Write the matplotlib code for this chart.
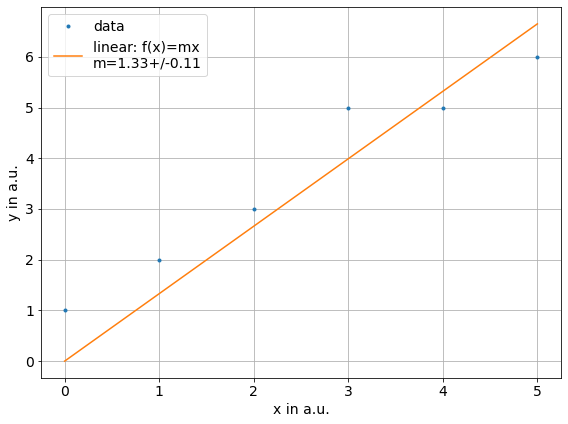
import matplotlib
matplotlib.use("Agg")
import matplotlib.pyplot as plt
import numpy as np

# measured points
x_data = [0, 1, 2, 3, 4, 5]
y_data = [1, 2, 3, 5, 5, 6]

# fit result shown in legend
fit_m = 1.33
fit_err = 0.11

plt.rcParams['font.size'] = 14

fig, ax = plt.subplots(figsize=(568 / 72, 424 / 72), dpi=72)
x = np.array(x_data)
ax.plot(x, y_data, '.', label='data')
ax.plot(x, fit_m * x, '-', label='linear: f(x)=mx\nm=%.2f+/-%.2f' % (fit_m, fit_err))
ax.set_xlabel('x in a.u.')
ax.set_ylabel('y in a.u.')
ax.grid(True)
ax.legend(loc='upper left')
fig.subplots_adjust(left=41 / 568, right=561 / 568, top=1 - 7 / 424, bottom=1 - 378 / 424)
fig.savefig('out.png')
